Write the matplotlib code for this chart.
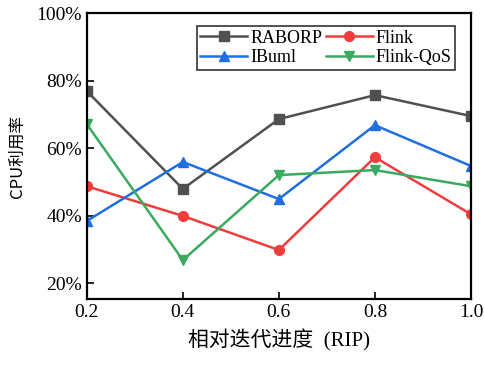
import matplotlib
matplotlib.use("Agg")
import matplotlib.pyplot as plt
from matplotlib.ticker import FuncFormatter

x = [0.2, 0.4, 0.6, 0.8, 1.0]
raborp = [76.9, 47.9, 68.6, 75.7, 69.5]
flink = [48.7, 39.9, 29.8, 57.3, 40.4]
ibuml = [38.4, 55.9, 44.9, 66.8, 54.7]
flink_qos = [67.1, 26.8, 52.0, 53.5, 48.7]
yticks = [20, 40, 60, 80, 100]
xticks = [0.2, 0.4, 0.6, 0.8, 1.0]

serif = ['Liberation Serif', 'Noto Sans CJK SC']
plt.rcParams['font.family'] = serif

fig = plt.figure(figsize=(4.85, 3.65), dpi=100)
ax = fig.add_axes([0.179, 0.181, 0.792, 0.783])

h1, = ax.plot(x, raborp, color='#505050', marker='s', ms=6.5, lw=1.8, label='RABORP')
h2, = ax.plot(x, flink, color='#f03c3c', marker='o', ms=7, lw=1.8, label='Flink')
h3, = ax.plot(x, ibuml, color='#1f6fe0', marker='^', ms=7, lw=1.8, label='IBuml')
h4, = ax.plot(x, flink_qos, color='#3aaa5f', marker='v', ms=7, lw=1.8, label='Flink-QoS')

ax.set_xlim(0.2, 1.0)
ax.set_ylim(15.3, 100)
ax.set_xticks(xticks)
ax.set_xticklabels([f'{v:.1f}' for v in xticks])
ax.set_yticks(yticks)
ax.yaxis.set_major_formatter(FuncFormatter(lambda v, p: f'{int(v)}%'))
ax.tick_params(direction='in', labelsize=14, length=5, width=1.2)
for s in ax.spines.values():
    s.set_linewidth(1.6)

ax.set_ylabel('CPU利用率', fontsize=12, family=['Noto Sans CJK SC'], labelpad=8)
ax.set_xlabel('相对迭代进度  (RIP)', fontsize=15, family=serif, labelpad=6)

leg = ax.legend([h1, h3, h2, h4], ['RABORP', 'IBuml', 'Flink', 'Flink-QoS'],
                ncol=2, loc='upper right', bbox_to_anchor=(0.958, 0.955), fontsize=13,
                frameon=True, fancybox=False, edgecolor='black', handlelength=2.6,
                columnspacing=0.2, handletextpad=0.15, borderpad=0.2, labelspacing=0.15,
                borderaxespad=0.0)
leg.get_frame().set_linewidth(1.2)

fig.savefig('out.png', dpi=100)
